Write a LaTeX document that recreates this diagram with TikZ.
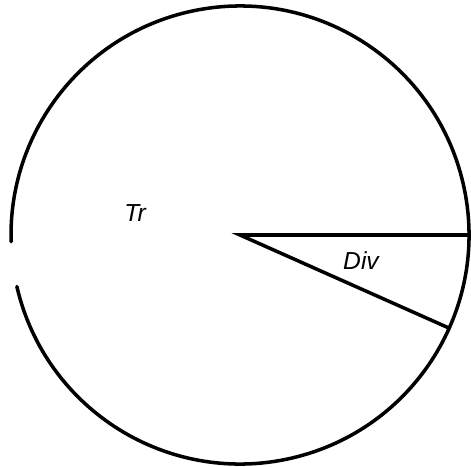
\documentclass[tikz,border=0pt]{standalone}
\usepackage{fontspec}
\setsansfont{Liberation Sans}
\usetikzlibrary{positioning}
\tikzset{
    pieline/.style={
        draw=black,
        line width=2pt,
        line cap=round
    },
    pieradius/.style={
        pieline,
        line join=miter
    },
    pielabel/.style={
        font=\sffamily\itshape\fontsize{14}{16}\selectfont,
        inner sep=0pt
    }
}
\begin{document}
\begin{tikzpicture}
    \useasboundingbox (-4.8,-4.62) rectangle (4.62,4.7);
    \coordinate (centre) at (0,0);
    \coordinate (rimtop) at (0:4.6);
    \coordinate (rimlow) at (-24:4.58);

    % outer rim, with the small break on the left
    \draw[pieline] (193:4.58) arc[start angle=193, end angle=541.7, radius=4.58];

    % the Div slice
    \draw[pieradius] (rimtop) -- (centre) -- (rimlow);

    \node[pielabel] (tr) at (-2.1,0.44) {Tr};
    \node[pielabel] (div) at (2.42,-0.52) {Div};
\end{tikzpicture}
\end{document}
